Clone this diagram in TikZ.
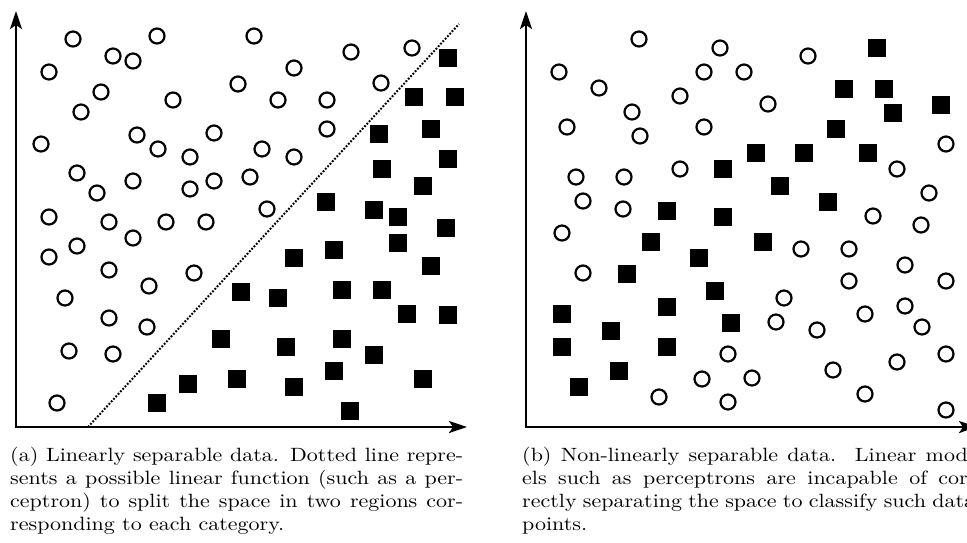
\documentclass[tikz,border=0pt]{standalone}
\usepackage{graphicx}
\usetikzlibrary{arrows.meta}
\newcommand{\capline}[1]{\makebox[205.9pt][s]{#1}}
\newcommand{\caplast}[1]{\makebox[205.9pt][l]{#1}}
\begin{document}
\begin{tikzpicture}[x=1pt,y=-1pt,
  circ/.style={circle,draw=black,line width=2.2pt,minimum size=15pt,inner sep=0pt},
  sq/.style={rectangle,fill=black,minimum size=18pt,inner sep=0pt},
  axis/.style={line width=2.4pt,line join=miter,{Stealth[length=18pt,width=12pt,inset=4pt]}-{Stealth[length=18pt,width=12pt,inset=4pt]}},
  sepline/.style={line width=2pt,dash pattern=on 1.8pt off 1.6pt},
  captext/.style={anchor=base west,inner sep=0pt}]
\useasboundingbox (0,0) rectangle (967,542);

% ---------- (a) linearly separable ----------
\coordinate (ao) at (16,427);
\coordinate (ay) at (16,11);
\coordinate (ax) at (467,427);
\draw[axis] (ay) -- (ao) -- (ax);

\foreach \px/\py [count=\i] in {73/39, 157/36, 254/36, 113/56, 133/61, 49/72, 351/52, 412/48,
  294/68, 238/84, 381/83, 101/92, 81/112, 173/100, 278/100, 327/100, 327/129, 41/144,
  137/135, 158/149, 214/133, 190/157, 262/149, 294/157, 77/173, 97/193, 133/181, 190/189,
  214/181, 250/177, 267/209, 49/217, 109/222, 166/222, 206/222, 133/238, 77/246, 49/257,
  109/270, 194/273, 149/286, 65/298, 109/318, 147/327, 69/351, 113/354, 57/403}
  \node[circ] (ac\i) at (\px,\py) {};

\foreach \px/\py [count=\i] in {448/58, 414/97, 455/97, 379/134, 431/129, 448/159, 382/169,
  423/186, 326/202, 374/210, 398/217, 446/228, 398/243, 334/250, 294/258, 431/266, 241/292,
  278/298, 342/290, 382/290, 407/314, 448/315, 221/339, 286/347, 342/339, 374/355, 188/384,
  237/379, 294/387, 334/371, 423/379, 157/403, 350/411}
  \node[sq] (as\i) at (\px,\py) {};

% separating line
\coordinate (sa) at (88,427);
\coordinate (sb) at (459,24);
\draw[sepline] (sa) -- (sb);

% ---------- (b) non-linearly separable ----------
\coordinate (bo) at (526,427);
\coordinate (by) at (526,11);
\coordinate (bx) at (977,427);
\draw[axis] (by) -- (bo) -- (bx);

\foreach \px/\py [count=\i] in {639/39, 720/48, 808/56, 559/72, 704/72, 744/72, 599/88,
  680/96, 768/104, 632/112, 567/127, 640/136, 704/127, 946/144, 680/169, 897/169, 576/177,
  624/177, 929/193, 583/201, 623/209, 873/216, 921/225, 562/233, 801/249, 849/249, 583/273,
  905/265, 946/281, 849/281, 784/298, 905/306, 865/314, 776/322, 817/330, 922/327, 728/354,
  946/354, 897/362, 833/370, 702/379, 752/378, 659/397, 728/402, 865/394, 946/410}
  \node[circ] (bc\i) at (\px,\py) {};

\foreach \px/\py [count=\i] in {877/48, 844/89, 884/89, 893/113, 941/105, 836/129, 756/153,
  804/153, 868/153, 723/169, 780/186, 828/202, 667/211, 723/217, 651/242, 763/242, 699/258,
  627/274, 715/291, 562/314, 667/307, 731/323, 611/331, 562/347, 667/347, 619/371, 579/387}
  \node[sq] (bs\i) at (\px,\py) {};

% ---------- captions (10pt text, enlarged; one box per line) ----------
\node[captext] (capa) at (10,461) {\scalebox{2.2}[1.92]{\parbox[t]{205.9pt}{%
  \fontsize{10}{12}\selectfont
  \capline{(a) Linearly separable data. Dotted line repre-}\\
  \capline{sents a possible linear function (such as a per-}\\
  \capline{ceptron) to split the space in two regions cor-}\\
  \caplast{responding to each category.}}}};
\node[captext] (capb) at (522,461) {\scalebox{2.2}[1.92]{\parbox[t]{205.9pt}{%
  \fontsize{10}{12}\selectfont
  \capline{(b) Non-linearly separable data.\ \ Linear mod-}\\
  \capline{els such as perceptrons are incapable of cor-}\\
  \capline{rectly separating the space to classify such data}\\
  \caplast{points.}}}};
\end{tikzpicture}
\end{document}
